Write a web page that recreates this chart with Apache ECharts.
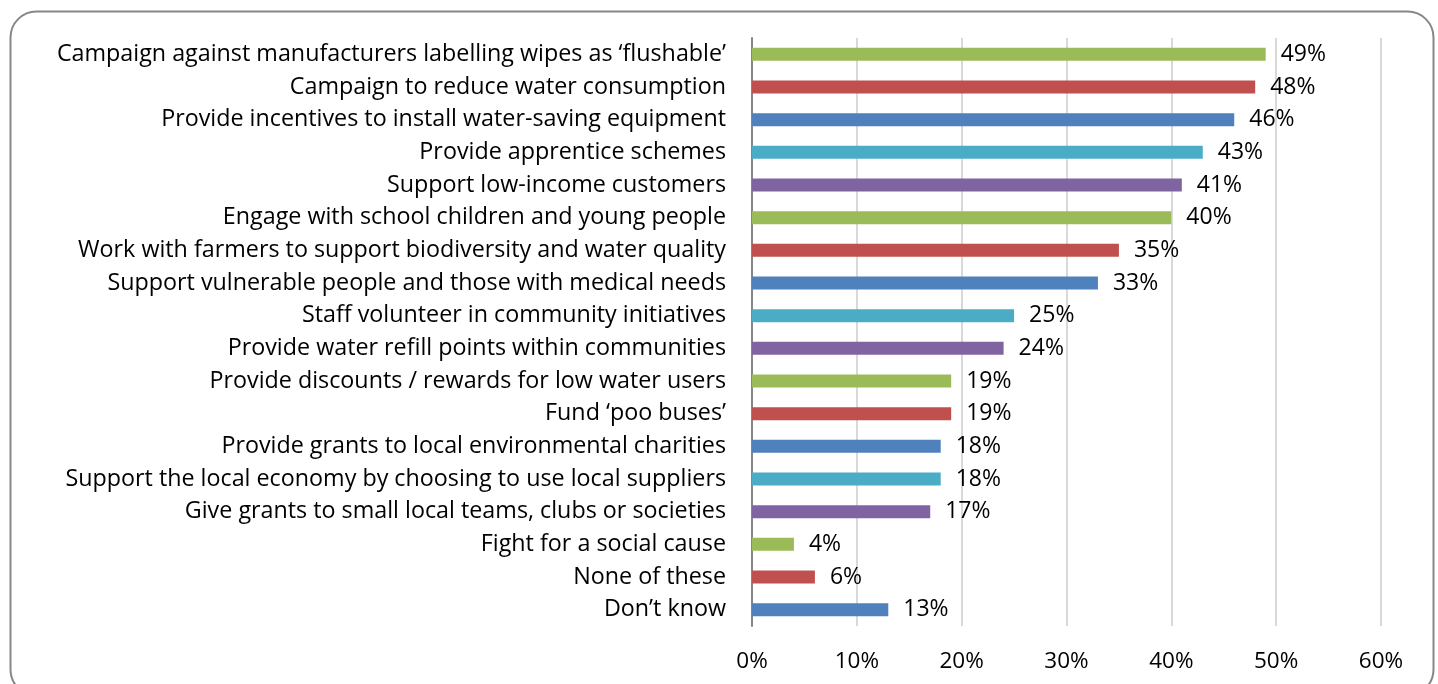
<!DOCTYPE html>
<html>
<head>
<meta charset="utf-8">
<script src="https://cdn.jsdelivr.net/npm/echarts@6/dist/echarts.min.js"></script>
<style>
html,body{margin:0;padding:0;background:#fff;}
#chart{width:1438px;height:684px;}
</style>
</head>
<body>
<div id="chart"></div>
<script>
const categories = [
  "Campaign against manufacturers labelling wipes as \u2018flushable\u2019",
  "Campaign to reduce water consumption",
  "Provide incentives to install water-saving equipment",
  "Provide apprentice schemes",
  "Support low-income customers",
  "Engage with school children and young people",
  "Work with farmers to support biodiversity and water quality",
  "Support vulnerable people and those with medical needs",
  "Staff volunteer in community initiatives",
  "Provide water refill points within communities",
  "Provide discounts / rewards for low water users",
  "Fund \u2018poo buses\u2019",
  "Provide grants to local environmental charities",
  "Support the local economy by choosing to use local suppliers",
  "Give grants to small local teams, clubs or societies",
  "Fight for a social cause",
  "None of these",
  "Don\u2019t know"
];
const values = [49, 48, 46, 43, 41, 40, 35, 33, 25, 24, 19, 19, 18, 18, 17, 4, 6, 13];
const palette = ["#9BBB59", "#C0504D", "#4F81BD", "#4BACC6", "#8064A2"];
const xTicks = [0, 10, 20, 30, 40, 50, 60];

const FONT = "Open Sans";
const chart = echarts.init(document.getElementById('chart'), null, {renderer: 'canvas'});
chart.setOption({
  animation: false,
  backgroundColor: '#fff',
  graphic: [{
    type: 'rect',
    left: 8, top: 9,
    shape: {width: 1423, height: 684, r: 26},
    style: {fill: 'none', stroke: '#878787', lineWidth: 2},
    silent: true
  }],
  grid: {left: 752, right: 57, top: 38, bottom: 58, containLabel: false},
  xAxis: {
    type: 'value',
    min: xTicks[0], max: xTicks[xTicks.length - 1], interval: 10,
    axisLine: {show: false},
    axisTick: {show: false},
    splitLine: {show: true, lineStyle: {color: '#D9D9D9', width: 2}},
    axisLabel: {
      formatter: v => v + '%', color: '#000', fontFamily: FONT, fontSize: 22.5, margin: 24
    }
  },
  yAxis: {
    type: 'category',
    inverse: true,
    data: categories,
    axisLine: {show: true, lineStyle: {color: '#868686', width: 2}},
    axisTick: {show: false},
    axisLabel: {color: '#000', fontFamily: FONT, fontSize: 23.3, margin: 26}
  },
  series: [{
    type: 'bar',
    data: values.map((v, i) => ({value: v, itemStyle: {color: palette[i % palette.length]}})),
    barWidth: 13,
    label: {
      show: true, position: 'right', distance: 15,
      formatter: p => p.value + '%', color: '#000', fontFamily: FONT, fontSize: 23
    }
  }]
});
</script>
</body>
</html>
